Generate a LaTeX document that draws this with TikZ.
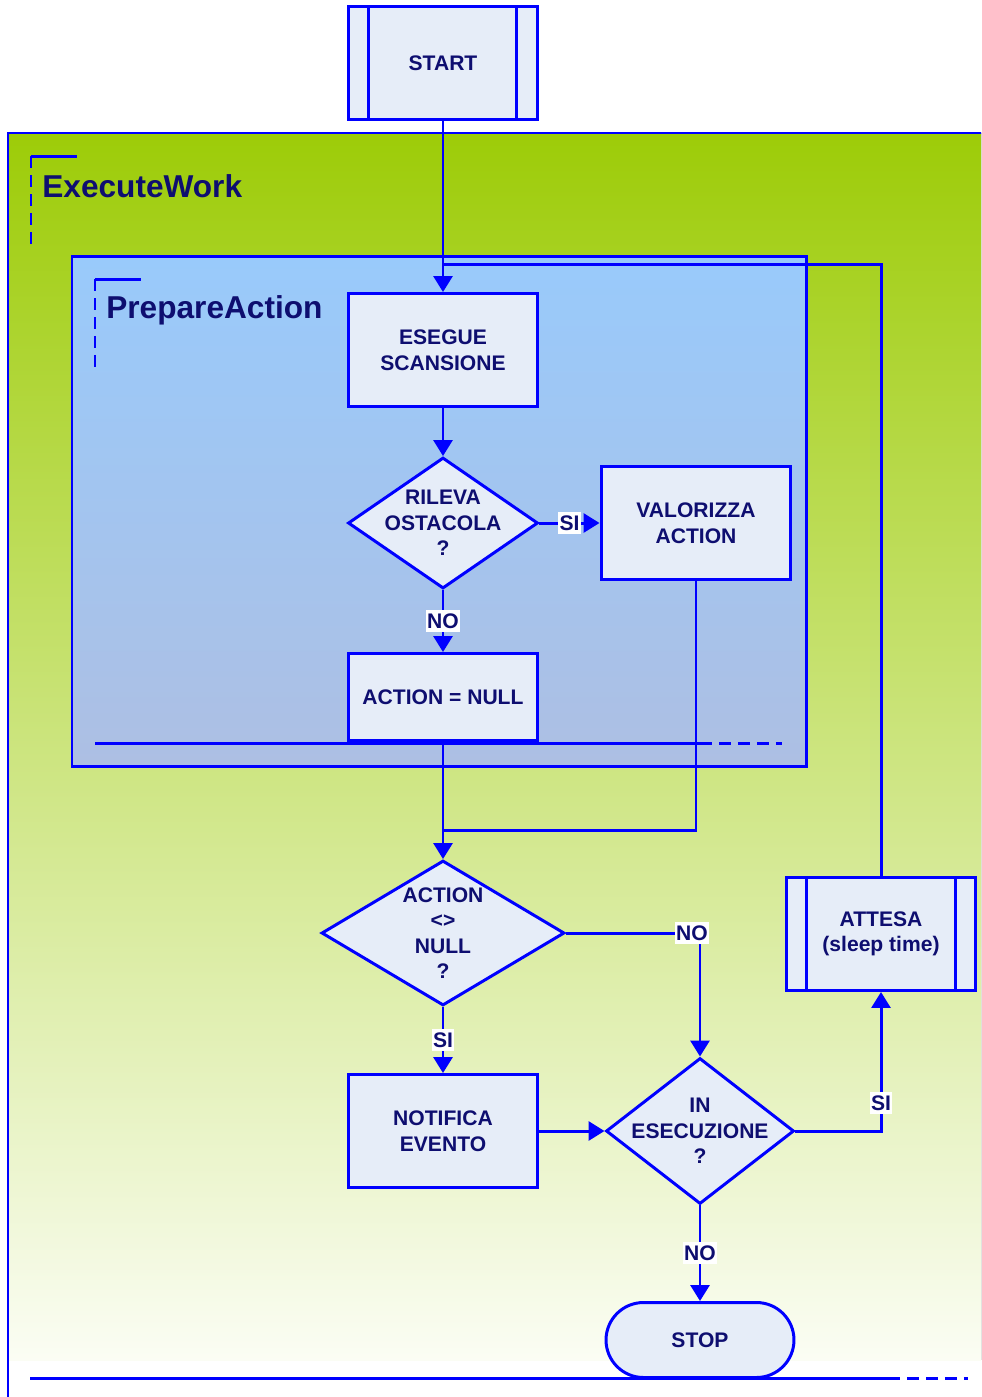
\documentclass[tikz,border=0pt]{standalone}
\usepackage{fontspec}
\setmainfont{Liberation Sans}
\usetikzlibrary{shapes.geometric,arrows.meta}
\definecolor{lineblue}{RGB}{0,0,255}
\definecolor{txtnavy}{RGB}{14,14,112}
\definecolor{boxfill}{RGB}{230,237,248}
\definecolor{greentop}{RGB}{157,204,8}
\definecolor{greenbot}{RGB}{251,253,244}
\definecolor{bluetop}{RGB}{153,202,251}
\definecolor{bluebot}{RGB}{173,191,227}
\begin{document}
\begin{tikzpicture}[x=0.02cm, y=-0.02cm,
    line/.style={draw=lineblue, line width=1.7pt},
    flow/.style={line, -{Triangle[length=0.32cm,width=0.38cm]}},
    block/.style={line, fill=boxfill, text=txtnavy, font=\bfseries\fontsize{12}{14.5}\selectfont,
      align=center, minimum width=3.8cm, minimum height=2.26cm, inner sep=0pt},
    decision/.style={line, fill=boxfill, diamond, inner sep=0pt},
    dectext/.style={text=txtnavy, font=\bfseries\fontsize{12}{14.5}\selectfont, align=center, inner sep=0pt},
    answer/.style={fill=white, text=txtnavy, font=\bfseries\fontsize{12}{14.5}\selectfont,
      inner xsep=0.6pt, inner ysep=2pt},
    frametitle/.style={text=txtnavy, font=\bfseries\fontsize{18}{21}\selectfont, anchor=base west, inner sep=0pt},
    framecut/.style={line, dash pattern=on 0.24cm off 0.14cm}]
    \useasboundingbox (0,0) rectangle (981,1397);
    \clip (0,0) rectangle (981,1397);

    % ExecuteWork frame
    \fill[top color=greentop, bottom color=greenbot] (8,133) rectangle (1010,1360);
    \draw[line] (8,1420) -- (8,133) -- (1010,133);
    \draw[line] (31,156) -- (77,156);
    \draw[framecut] (31,156) -- (31,248);
    \node[frametitle] (exectitle) at (42,197) {ExecuteWork};
    \draw[line] (30,1378) -- (888,1378);
    \draw[framecut] (888,1378) -- (968,1378);

    % PrepareAction frame
    \draw[line, top color=bluetop, bottom color=bluebot] (72,256) rectangle (806,766);
    \draw[line] (95,279) -- (141,279);
    \draw[framecut] (95,279) -- (95,370);
    \node[frametitle] (preptitle) at (106,318) {PrepareAction};
    \draw[line] (95,743) -- (700,743);
    \draw[framecut] (700,743) -- (782,743);

    % Start
    \node[block] (start) at (443,63) {START};
    \draw[line] ([xshift=0.44cm]start.north west) -- ([xshift=0.44cm]start.south west);
    \draw[line] ([xshift=-0.46cm]start.north east) -- ([xshift=-0.46cm]start.south east);

    % Scan and obstacle
    \node[block] (scan) at (443,350) {ESEGUE\\SCANSIONE};
    \node[decision, minimum width=3.8cm, minimum height=2.62cm] (detect) at (443,523) {};
    \node[dectext] (detecttxt) at (detect) {RILEVA\\OSTACOLA\\?};
    \node[block] (setaction) at (696,523) {VALORIZZA\\ACTION};
    \node[block, minimum height=1.74cm] (nullaction) at (443,697) {ACTION = NULL};

    % Action check
    \node[decision, minimum width=4.86cm, minimum height=2.9cm] (check) at (443,933) {};
    \node[dectext] (checktxt) at (check) {ACTION\\<>\\NULL\\?};
    \node[block] (notify) at (443,1131) {NOTIFICA\\EVENTO};
    \node[decision, minimum width=3.76cm, minimum height=2.92cm] (running) at (700,1131) {};
    \node[dectext] (runningtxt) at (running) {IN\\ESECUZIONE\\?};

    % Wait
    \node[block] (wait) at (881,934) {ATTESA\\(sleep time)};
    \draw[line] ([xshift=0.44cm]wait.north west) -- ([xshift=0.44cm]wait.south west);
    \draw[line] ([xshift=-0.44cm]wait.north east) -- ([xshift=-0.44cm]wait.south east);

    % Stop
    \node[block, minimum width=3.76cm, minimum height=1.5cm, rounded corners=0.75cm] (stop) at (700,1340) {STOP};

    % Connectors
    \coordinate (loopin) at (443,264);
    \coordinate (merge) at (443,830);
    \draw[flow] (start) -- (scan);
    \draw[line] (wait.north) |- (loopin);
    \draw[flow] (scan) -- (detect);
    \draw[flow] (detect) -- node[answer] (si1) {SI} (setaction);
    \draw[flow] (detect) -- node[answer] (no1) {NO} (nullaction);
    \draw[flow] (nullaction) -- (check);
    \draw[line] (setaction.south) |- (merge);
    \draw[flow] (check.east) -| node[answer, pos=0.47] (no2) {NO} (running.north);
    \draw[flow] (check) -- node[answer] (si2) {SI} (notify);
    \draw[flow] (notify) -- (running);
    \draw[flow] (running.east) -| node[answer, pos=0.6] (si3) {SI} (wait.south);
    \draw[flow] (running) -- node[answer] (no3) {NO} (stop);
\end{tikzpicture}
\end{document}
